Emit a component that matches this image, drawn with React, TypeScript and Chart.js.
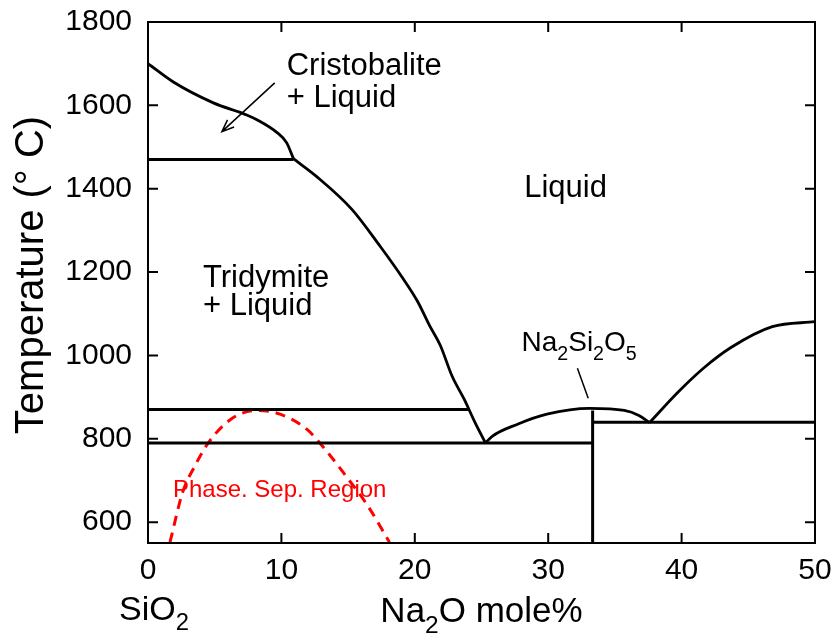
import React, { useEffect, useRef } from 'react';
import { Chart, registerables } from 'chart.js';

Chart.register(...registerables);

// ---- axes ----
const X_MIN = 0;
const X_MAX = 50;
const Y_MIN = 550;
const Y_MAX = 1800;
const X_TICKS = [0, 10, 20, 30, 40, 50];
const Y_TICKS = [600, 800, 1000, 1200, 1400, 1600, 1800];

// ---- liquidus branches (mole% Na2O, °C) ----
const CRISTO_LIQ_X = [0, 1.9, 4.9, 7.4, 8.2, 9.7, 10.4, 10.9];
const CRISTO_LIQ_T = [1700, 1656, 1606, 1577, 1565, 1534, 1510, 1472];
const TRID_LIQ_X = [10.9, 12.65, 15.3, 17.4, 19.0, 20.2, 21.1, 21.9, 22.8, 23.7, 24.5, 25.3];
const TRID_LIQ_T = [1472, 1429, 1350, 1262, 1190, 1130, 1072, 1025, 950, 895, 840, 790];
const NS2_LIQ_X = [25.3, 25.8, 27.7, 29.9, 33.1, 35.7, 36.8, 37.6];
const NS2_LIQ_T = [790, 806, 835, 859, 873, 868, 856, 839];
const NS_LIQ_X = [37.6, 39.8, 41.7, 43.7, 46.8, 50];
const NS_LIQ_T = [839, 914, 971, 1019, 1069, 1081];

// ---- invariant lines ----
const CRISTO_TRID_X = [0, 10.9];
const CRISTO_TRID_T = [1470, 1470];
const UPPER_ISO_X = [0, 24.0];
const UPPER_ISO_T = [870, 870];
const EUTECTIC1_X = [0, 33.33];
const EUTECTIC1_T = [790, 790];
const COMPOUND_X = [33.33, 33.33];
const COMPOUND_T = [868, 550];
const EUTECTIC2_X = [33.33, 50];
const EUTECTIC2_T = [840, 840];

// ---- phase separation dome ----
const PHASE_SEP_X = [1.65, 2.6, 3.5, 4.6, 6.4, 8.2, 9.9, 11.9, 13.4, 14.9, 16.4, 18.1];
const PHASE_SEP_T = [552, 672, 734, 794, 851, 868, 859, 823, 770, 708, 643, 552];

const FONT = '"Liberation Sans", Arial, Helvetica, sans-serif';

const pts = (xs: number[], ys: number[]) => xs.map((x, i) => ({ x, y: ys[i] }));

type Part = [string, boolean];

function drawRich(ctx: CanvasRenderingContext2D, parts: Part[], x: number, y: number, size: number, align: 'left' | 'center', color = '#000') {
  const sub = size * 0.7;
  const shift = size * 0.3;
  let total = 0;
  for (const [t, s] of parts) {
    ctx.font = `${s ? sub : size}px ${FONT}`;
    total += ctx.measureText(t).width;
  }
  let cx = align === 'center' ? x - total / 2 : x;
  ctx.fillStyle = color;
  ctx.textAlign = 'left';
  ctx.textBaseline = 'alphabetic';
  for (const [t, s] of parts) {
    ctx.font = `${s ? sub : size}px ${FONT}`;
    ctx.fillText(t, cx, s ? y + shift : y);
    cx += ctx.measureText(t).width;
  }
}

const decor = {
  id: 'decor',
  afterDraw(chart: any) {
    const { ctx, chartArea: a, scales } = chart;
    const xs = scales.x;
    const ys = scales.y;
    const px = (v: number) => xs.getPixelForValue(v);
    const py = (v: number) => ys.getPixelForValue(v);
    ctx.save();
    // frame
    ctx.strokeStyle = '#000';
    ctx.lineWidth = 2;
    ctx.strokeRect(a.left, a.top, a.right - a.left, a.bottom - a.top);
    // inward ticks
    const TL = 10;
    ctx.beginPath();
    for (const v of X_TICKS) {
      const p = px(v);
      ctx.moveTo(p, a.bottom); ctx.lineTo(p, a.bottom - TL);
      ctx.moveTo(p, a.top); ctx.lineTo(p, a.top + TL);
    }
    for (const v of Y_TICKS) {
      const p = py(v);
      ctx.moveTo(a.left, p); ctx.lineTo(a.left + TL, p);
      ctx.moveTo(a.right, p); ctx.lineTo(a.right - TL, p);
    }
    ctx.stroke();

    // region labels
    drawRich(ctx, [['Cristobalite', false]], px(10.4), py(1672), 31, 'left');
    drawRich(ctx, [['+ Liquid', false]], px(10.4), py(1596), 31, 'left');
    drawRich(ctx, [['Liquid', false]], px(28.2), py(1381), 31, 'left');
    drawRich(ctx, [['Tridymite', false]], px(4.12), py(1165), 31, 'left');
    drawRich(ctx, [['+ Liquid', false]], px(4.12), py(1098), 31, 'left');
    drawRich(ctx, [['Na', false], ['2', true], ['Si', false], ['2', true], ['O', false], ['5', true]], px(28.0), py(1010), 28, 'left');
    drawRich(ctx, [['Phase. Sep. Region', false]], px(1.87), py(660), 24, 'left', '#ff0000');

    // arrow to cristobalite field
    ctx.strokeStyle = '#000';
    ctx.lineWidth = 1.5;
    const ax0 = px(9.5), ay0 = py(1654), ax1 = px(5.54), ay1 = py(1537);
    ctx.beginPath();
    ctx.moveTo(ax0, ay0); ctx.lineTo(ax1, ay1);
    const ang = Math.atan2(ay1 - ay0, ax1 - ax0);
    const hl = 13, ha = 0.38;
    ctx.moveTo(ax1 - hl * Math.cos(ang - ha), ay1 - hl * Math.sin(ang - ha));
    ctx.lineTo(ax1, ay1);
    ctx.lineTo(ax1 - hl * Math.cos(ang + ha), ay1 - hl * Math.sin(ang + ha));
    ctx.stroke();

    // leader line for Na2Si2O5
    ctx.beginPath();
    ctx.moveTo(px(32.19), py(969)); ctx.lineTo(px(33.0), py(897));
    ctx.stroke();

    // axis titles
    const cxm = (a.left + a.right) / 2;
    drawRich(ctx, [['Na', false], ['2', true], ['O mole%', false]], cxm, 622, 35, 'center');
    drawRich(ctx, [['SiO', false], ['2', true]], px(0) + 6, 620, 34, 'center');

    ctx.save();
    ctx.translate(43, 275);
    ctx.rotate(-Math.PI / 2);
    ctx.font = `40px ${FONT}`;
    ctx.fillStyle = '#000';
    ctx.textAlign = 'center';
    ctx.textBaseline = 'alphabetic';
    ctx.fillText('Temperature (\u00B0 C)', 0, 0);
    ctx.restore();

    ctx.restore();
  },
};

const zeroPad = (s: any) => {
  s.paddingTop = 0;
  s.paddingBottom = 0;
  s.paddingLeft = 0;
  s.paddingRight = 0;
};

export default function App() {
  const ref = useRef<HTMLCanvasElement | null>(null);
  useEffect(() => {
    if (!ref.current) return;
    const line = (xs: number[], ys: number[], extra: any = {}) => ({
      data: pts(xs, ys),
      showLine: true,
      borderColor: '#000',
      borderWidth: 3,
      pointRadius: 0,
      tension: 0,
      fill: false,
      ...extra,
    });
    const curve = { borderWidth: 2.8, borderJoinStyle: 'round', cubicInterpolationMode: 'monotone' };
    const chart = new Chart(ref.current, {
      type: 'scatter',
      data: {
        datasets: [
          line(CRISTO_LIQ_X, CRISTO_LIQ_T, curve),
          line(TRID_LIQ_X, TRID_LIQ_T, curve),
          line(NS2_LIQ_X, NS2_LIQ_T, curve),
          line(NS_LIQ_X, NS_LIQ_T, curve),
          line(CRISTO_TRID_X, CRISTO_TRID_T),
          line(UPPER_ISO_X, UPPER_ISO_T),
          line(EUTECTIC1_X, EUTECTIC1_T),
          line(COMPOUND_X, COMPOUND_T),
          line(EUTECTIC2_X, EUTECTIC2_T),
          line(PHASE_SEP_X, PHASE_SEP_T, { borderColor: '#ff0000', borderDash: [10, 7], cubicInterpolationMode: 'monotone' }),
        ],
      },
      options: {
        animation: false,
        responsive: false,
        events: [],
        layout: { padding: { top: 22, right: 20, left: 0, bottom: 0 } },
        plugins: { legend: { display: false }, tooltip: { enabled: false } },
        scales: {
          x: {
            type: 'linear',
            min: X_MIN,
            max: X_MAX,
            afterBuildTicks: (s: any) => { s.ticks = X_TICKS.map((value) => ({ value })); },
            afterFit: (s: any) => { s.height = 94; zeroPad(s); },
            grid: { display: false, drawTicks: false },
            border: { display: false },
            ticks: {
              color: '#000',
              font: { family: FONT, size: 30 },
              padding: 10,
              maxRotation: 0,
              autoSkip: false,
              callback: (v: any) => String(v),
            },
          },
          y: {
            type: 'linear',
            min: Y_MIN,
            max: Y_MAX,
            afterBuildTicks: (s: any) => { s.ticks = Y_TICKS.map((value) => ({ value })); },
            afterFit: (s: any) => { s.width = 148; zeroPad(s); },
            grid: { display: false, drawTicks: false },
            border: { display: false },
            ticks: {
              color: '#000',
              font: { family: FONT, size: 30 },
              padding: 16,
              autoSkip: false,
              callback: (v: any) => String(v),
            },
          },
        },
      },
      plugins: [decor],
    } as any);
    return () => chart.destroy();
  }, []);
  return (
    <div style={{ position: 'absolute', left: 0, top: 0, width: 835, height: 637, background: '#fff' }}>
      <canvas ref={ref} width={835} height={637} />
    </div>
  );
}
